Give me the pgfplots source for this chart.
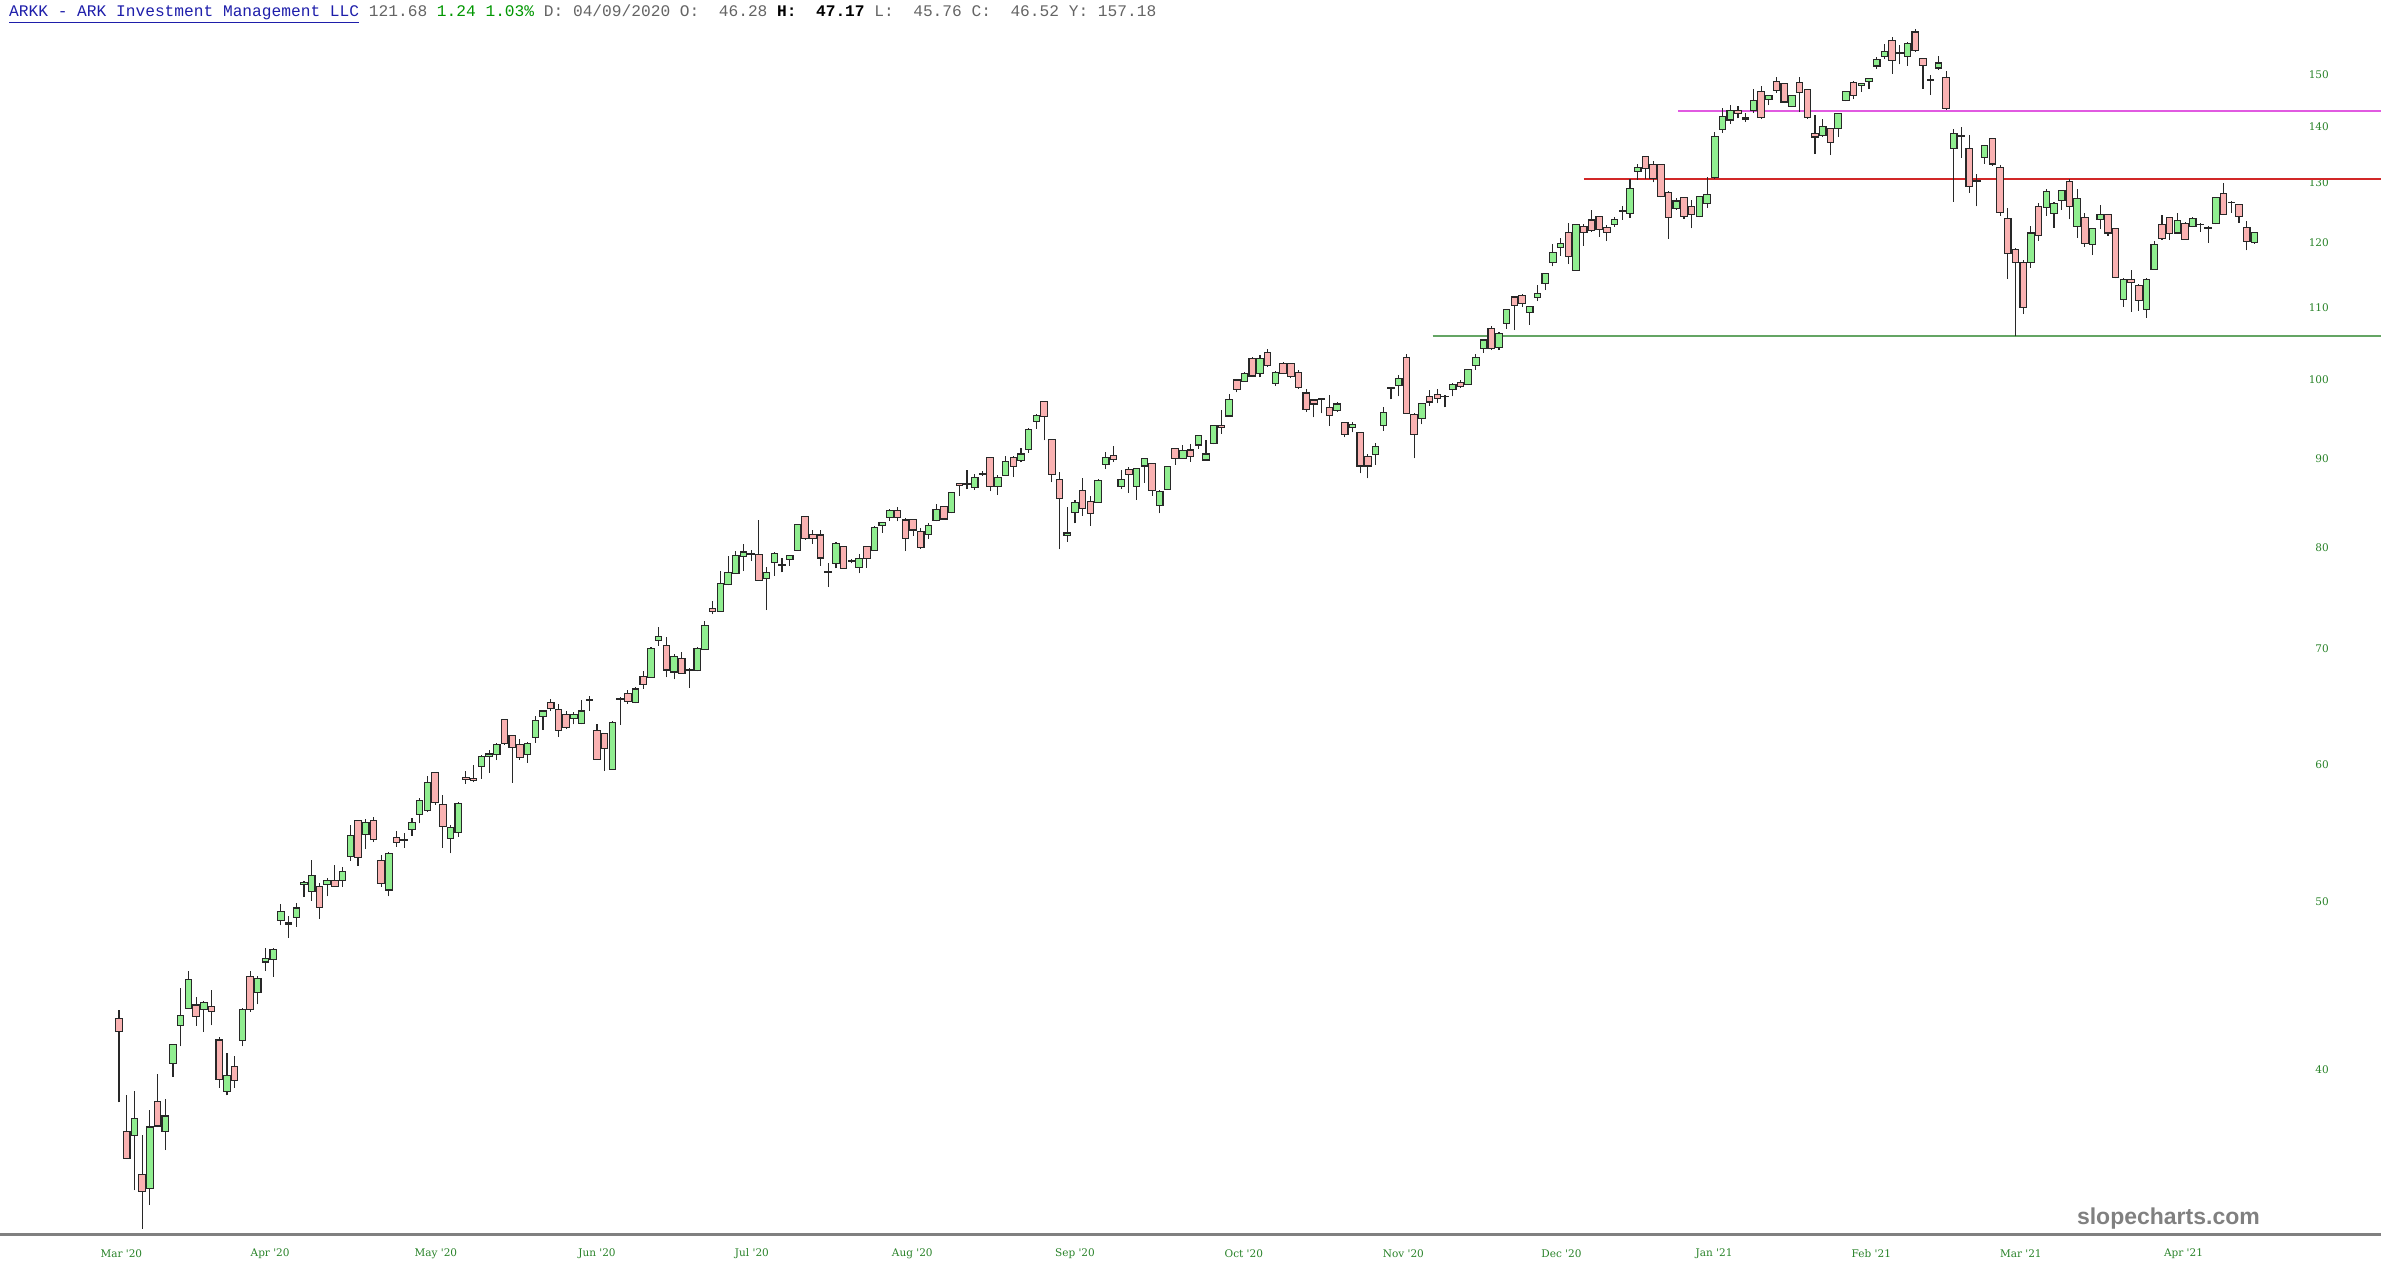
\documentclass[border=0pt]{standalone}
\usepackage{pgfplots}
\usepackage{pgfplotstable}
\pgfplotsset{compat=1.18}
\usepackage{fontspec}
\setmainfont{DejaVu Serif}
\newfontfamily\hdrfont{Liberation Mono}
\newfontfamily\tickfont{DejaVu Serif}
\newfontfamily\wmfont{Liberation Sans}
\definecolor{candup}{RGB}{144,238,144}
\definecolor{candown}{RGB}{250,178,178}
\definecolor{candedge}{RGB}{40,40,40}
\definecolor{tickgreen}{RGB}{40,130,40}
\definecolor{linkblue}{RGB}{30,30,170}
\definecolor{hgray}{RGB}{100,100,100}
\definecolor{hgreen}{RGB}{0,150,0}
\definecolor{lmag}{RGB}{225,90,225}
\definecolor{lred}{RGB}{210,40,40}
\definecolor{lgreen}{RGB}{100,165,100}
\definecolor{wmgray}{RGB}{128,128,128}

\pgfplotstableread{
x o h l c
0 42.82 43.31 38.31 42.09
1 36.85 38.70 35.52 35.55
2 36.65 38.89 34.08 37.49
3 34.81 36.68 32.39 34.04
4 34.16 37.91 33.42 37.07
5 38.35 39.76 37.07 37.12
6 36.85 38.49 35.95 37.62
7 40.32 41.40 39.63 41.36
8 42.43 44.59 41.26 42.97
9 43.39 45.61 43.39 45.09
10 43.59 44.05 42.40 42.93
11 43.35 43.83 42.05 43.75
12 43.51 44.49 42.42 43.20
13 41.61 41.77 39.07 39.49
14 38.87 40.91 38.66 39.68
15 40.16 40.71 39.05 39.43
16 41.57 43.41 41.26 43.31
17 45.26 45.59 43.19 43.35
18 44.31 45.28 43.63 45.13
19 46.15 47.03 45.63 46.36
20 46.28 46.99 45.26 46.93
21 48.78 49.86 48.46 49.38
22 48.63 49.05 47.65 48.54
23 48.98 49.90 48.37 49.58
24 51.14 51.39 50.31 51.27
25 50.68 52.83 50.06 51.75
26 51.00 51.27 48.85 49.63
27 51.18 51.63 50.36 51.43
28 51.43 52.47 50.98 51.02
29 51.40 52.34 51.01 52.05
30 53.08 55.36 52.77 54.61
31 55.68 55.68 52.41 53.03
32 54.66 55.78 53.61 55.56
33 55.66 55.93 54.11 54.28
34 52.84 53.20 51.01 51.24
35 50.78 53.39 50.36 53.32
36 54.45 54.93 53.80 54.06
37 54.33 54.81 53.73 54.23
38 55.06 55.86 54.56 55.56
39 56.11 57.39 55.48 57.18
40 56.46 59.07 56.31 58.57
41 59.33 59.33 56.86 57.02
42 56.91 57.60 53.73 55.28
43 54.38 55.36 53.32 55.18
44 54.78 57.07 54.48 56.97
45 58.99 59.50 58.49 58.78
46 58.91 59.99 58.59 58.70
47 59.85 60.75 58.86 60.67
48 60.64 61.19 59.33 60.84
49 60.81 61.71 60.34 61.63
50 63.70 63.70 61.58 61.71
51 62.32 62.41 58.57 61.36
52 61.58 62.07 60.34 60.59
53 60.81 61.85 60.12 61.66
54 62.18 63.95 61.77 63.61
55 63.98 64.41 62.81 64.41
56 65.15 65.48 64.41 64.64
57 64.58 65.00 62.27 62.75
58 64.12 64.41 62.87 63.04
59 63.78 64.30 63.29 64.15
60 63.39 65.36 63.28 64.41
61 65.42 65.75 64.43 65.30
62 62.80 63.28 60.37 60.37
63 62.53 62.53 59.50 61.28
64 59.61 63.53 59.61 63.42
65 65.52 65.66 63.25 65.42
66 65.90 66.24 65.01 65.24
67 65.16 66.50 65.07 66.32
68 67.47 67.96 66.35 66.75
69 67.35 70.15 67.35 70.02
70 70.71 72.01 70.24 71.09
71 70.30 71.03 67.35 68.02
72 67.84 69.46 67.17 69.26
73 69.04 69.67 67.66 67.72
74 68.10 68.17 66.44 68.02
75 67.96 70.15 67.90 70.02
76 69.89 72.59 69.83 72.14
77 73.82 74.52 73.23 73.56
78 73.53 77.58 73.53 76.30
79 76.20 79.10 76.10 77.41
80 77.37 79.68 77.37 79.17
81 79.10 80.37 77.58 79.57
82 79.43 79.75 78.60 79.36
83 79.32 82.99 76.65 76.65
84 76.82 78.03 73.66 77.41
85 78.46 79.57 77.10 79.46
86 78.27 78.96 77.44 78.16
87 78.78 79.28 78.13 79.17
88 79.68 82.61 79.68 82.50
89 83.40 83.40 80.84 81.02
90 81.45 81.92 80.46 81.01
91 81.37 81.95 78.13 78.94
92 77.49 78.38 75.94 77.41
93 78.38 80.57 77.85 80.46
94 80.10 80.17 77.85 77.85
95 78.62 78.83 78.38 78.55
96 77.96 79.34 77.33 78.90
97 80.17 80.17 77.92 78.90
98 79.77 82.37 79.74 82.18
99 82.40 82.71 81.63 82.71
100 83.32 84.19 82.94 84.03
101 84.03 84.49 82.86 83.29
102 83.01 83.24 79.66 80.97
103 83.09 83.16 81.30 81.92
104 81.74 82.10 79.93 80.00
105 81.45 82.71 80.94 82.44
106 82.98 84.76 82.86 84.19
107 84.49 84.60 83.05 83.12
108 83.81 86.14 83.74 86.06
109 87.12 87.24 85.74 86.88
110 87.16 88.67 86.45 87.08
111 86.65 88.19 86.41 87.87
112 88.31 88.59 88.03 88.23
113 90.16 90.16 86.22 86.80
114 86.80 88.11 85.82 87.83
115 88.07 90.32 87.99 89.74
116 90.24 90.32 87.87 89.14
117 89.86 91.28 89.62 90.62
118 91.15 93.76 90.78 93.65
119 94.63 95.62 93.69 95.36
120 97.14 97.23 92.28 95.19
121 92.37 92.37 87.27 88.17
122 87.55 88.45 79.84 85.40
123 81.29 84.50 80.63 81.59
124 83.86 85.25 82.63 84.93
125 86.37 87.74 83.49 84.31
126 85.12 85.67 82.37 83.75
127 85.01 87.63 84.93 87.47
128 89.35 90.90 88.80 90.15
129 90.41 91.59 89.68 89.97
130 86.76 88.72 86.49 87.63
131 88.80 89.11 86.07 88.21
132 86.76 88.99 85.25 88.92
133 89.19 90.15 87.24 90.06
134 89.46 89.58 85.71 86.33
135 84.61 86.37 83.75 86.26
136 86.45 89.19 86.45 89.11
137 91.23 91.39 89.31 90.06
138 90.11 91.71 90.02 91.02
139 91.10 91.79 89.68 90.29
140 91.71 92.99 91.23 92.86
141 89.90 92.33 89.82 90.62
142 91.84 94.16 91.79 94.07
143 94.12 96.08 93.09 93.86
144 95.31 98.19 95.31 97.43
145 99.98 100.07 98.33 98.73
146 99.80 101.06 99.71 100.87
147 102.87 103.11 100.42 100.51
148 100.87 103.29 100.33 102.87
149 103.71 104.18 101.71 101.89
150 99.53 101.19 99.22 100.96
151 102.13 102.46 100.78 100.87
152 102.13 102.22 100.19 100.42
153 101.00 101.32 98.84 98.98
154 98.26 98.84 95.85 96.15
155 97.36 97.45 95.12 96.84
156 97.49 97.49 95.64 97.41
157 96.41 98.03 94.04 95.42
158 96.02 97.14 95.85 96.84
159 94.47 94.56 92.64 93.02
160 93.83 94.56 93.27 94.21
161 93.27 93.35 88.32 89.19
162 90.29 90.61 87.73 89.19
163 90.57 91.99 89.31 91.49
164 94.13 96.50 93.48 95.72
165 98.98 98.98 97.45 98.89
166 99.29 100.69 97.81 100.19
167 103.06 103.54 95.64 95.64
168 95.51 95.64 90.09 93.02
169 94.99 97.02 94.26 96.89
170 97.81 98.60 96.58 97.10
171 98.12 98.82 96.93 97.58
172 97.85 98.03 96.41 97.77
173 98.75 99.52 97.81 99.38
174 99.70 99.97 98.98 99.16
175 99.38 101.50 99.29 101.41
176 101.91 103.54 101.32 103.06
177 104.25 105.57 103.69 105.43
178 107.01 107.35 104.02 104.20
179 104.39 106.51 104.02 106.37
180 107.74 109.81 107.01 109.81
181 111.62 111.62 106.83 110.36
182 111.90 112.04 110.12 110.70
183 109.39 110.36 107.57 110.26
184 111.58 113.47 111.02 112.16
185 113.68 115.23 112.66 115.12
186 116.86 119.78 116.28 118.45
187 119.14 120.79 117.92 119.89
188 121.60 123.09 116.60 117.76
189 115.61 122.98 115.61 122.87
190 122.54 122.98 119.51 121.60
191 123.65 125.32 121.76 121.98
192 124.20 124.37 120.89 122.04
193 122.43 122.87 120.22 121.60
194 122.98 124.20 122.54 123.70
195 125.13 126.00 123.65 125.04
196 124.65 130.52 123.98 128.96
197 131.88 133.16 130.41 132.55
198 134.49 134.49 130.58 132.43
199 133.16 133.64 130.00 130.58
200 133.16 133.28 127.40 127.51
201 128.26 128.55 120.63 124.09
202 125.48 127.39 125.37 126.81
203 127.39 127.51 123.81 124.26
204 125.95 126.93 122.26 124.48
205 124.20 127.68 124.09 127.51
206 126.41 130.87 125.59 127.97
207 130.87 139.00 130.50 138.20
208 139.50 143.50 138.80 141.80
209 141.20 144.00 140.50 143.00
210 143.00 143.80 141.50 142.40
211 141.60 142.50 140.80 141.40
212 143.00 147.10 142.57 144.95
213 146.58 147.78 141.49 141.60
214 145.14 146.06 143.97 145.80
215 148.69 149.47 146.45 146.90
216 148.15 148.22 144.43 144.62
217 143.77 145.93 143.64 145.80
218 148.36 149.47 142.70 146.45
219 146.97 146.97 141.49 141.60
220 138.74 142.23 134.94 138.05
221 138.36 141.47 138.05 140.05
222 139.61 139.74 134.76 137.12
223 139.61 142.57 138.05 142.42
224 144.95 146.77 144.75 146.58
225 148.42 148.62 145.14 145.80
226 147.78 148.42 146.58 148.15
227 148.56 149.40 147.10 149.13
228 151.72 153.56 151.17 153.08
229 153.70 156.24 153.08 154.60
230 156.95 157.59 150.15 152.88
231 154.37 156.03 152.06 154.30
232 153.70 156.60 151.72 156.24
233 158.73 159.45 154.51 154.82
234 153.22 153.22 147.23 151.86
235 148.92 149.97 145.93 148.85
236 151.31 153.70 150.97 152.33
237 149.47 150.61 143.19 143.32
238 135.95 139.61 126.64 138.67
239 138.24 139.92 134.28 138.12
240 135.95 138.36 128.24 129.32
241 130.29 131.49 125.89 130.17
242 134.34 136.67 133.27 136.43
243 137.83 137.83 132.91 133.20
244 132.56 133.03 124.32 124.87
245 123.87 125.71 114.39 118.24
246 118.93 119.20 105.93 116.84
247 116.84 117.26 109.10 110.08
248 116.84 122.64 116.08 121.53
249 125.88 126.45 120.26 121.08
250 125.71 128.77 124.32 128.37
251 124.76 126.57 122.35 126.45
252 126.85 128.60 125.32 128.60
253 130.17 130.52 123.76 125.82
254 122.59 128.77 120.80 127.24
255 124.04 124.87 119.36 119.89
256 119.73 122.31 118.02 122.20
257 123.76 126.16 122.20 124.48
258 124.59 124.59 121.08 121.53
259 122.31 122.42 114.44 114.54
260 111.20 114.54 110.17 114.19
261 114.19 115.72 109.44 113.78
262 113.37 113.52 109.59 111.05
263 109.83 114.44 108.61 114.29
264 115.72 120.26 115.72 119.73
265 122.87 124.43 120.42 120.64
266 124.04 124.15 120.42 121.46
267 121.53 124.76 121.46 123.59
268 123.03 123.31 120.42 120.53
269 122.64 124.15 122.48 123.87
270 122.98 123.08 121.76 122.87
271 122.42 122.59 120.00 122.31
272 123.03 127.52 122.92 127.35
273 128.02 129.94 124.43 124.59
274 126.62 126.74 124.87 126.51
275 126.28 126.28 123.20 124.15
276 122.35 123.48 118.77 120.21
277 119.94 121.75 119.84 121.68
}\candles

\begin{document}
\begin{tikzpicture}[x=1pt,y=1pt]
\path[use as bounding box] (0,0) rectangle (2381,1275);
\begin{axis}[
  at={(0pt,41pt)}, anchor=south west,
  scale only axis, width=2381pt, height=1234pt,
  xmin=-15.44, xmax=293.42,
  ymode=log, ymin=32.16, ymax=165.62,
  axis line style={draw=none},
  major tick length=0pt, minor tick num=0,
  xtick={0.3,19.6,41.1,62.0,82.1,102.9,124.0,145.9,166.6,187.1,206.9,227.3,246.7,267.8},
  xticklabels={Mar '20,Apr '20,May '20,Jun '20,Jul '20,Aug '20,Sep '20,Oct '20,Nov '20,Dec '20,Jan '21,Feb '21,Mar '21,Apr '21},
  xticklabel style={font=\tickfont\fontsize{10.5}{12}\selectfont, text=tickgreen, anchor=center, yshift=-20pt},
  ytick={40,50,60,70,80,90,100,110,120,130,140,150},
  yticklabels={40,50,60,70,80,90,100,110,120,130,140,150},
  yticklabel pos=right,
  yticklabel style={font=\tickfont\fontsize{10.5}{12}\selectfont, text=tickgreen, anchor=east, inner sep=0pt, xshift=-52pt},
  wick/.style={draw=candedge, line width=1.1pt, mark=none},
  body/.style={draw=candedge, line width=1.1pt, mark=none},
]
\addplot[lgreen, line width=1.4pt, mark=none] coordinates {(170.4,106.0) (293.42,106.0)};
\addplot[lred, line width=1.5pt, mark=none] coordinates {(190.0,130.6) (293.42,130.6)};
\addplot[lmag, line width=2.0pt, mark=none] coordinates {(202.2,142.9) (293.42,142.9)};
\pgfplotsinvokeforeach{0,...,277}{%
  \pgfplotstablegetelem{#1}{x}\of\candles\edef\cx{\pgfplotsretval}%
  \pgfplotstablegetelem{#1}{o}\of\candles\edef\co{\pgfplotsretval}%
  \pgfplotstablegetelem{#1}{h}\of\candles\edef\ch{\pgfplotsretval}%
  \pgfplotstablegetelem{#1}{l}\of\candles\edef\cl{\pgfplotsretval}%
  \pgfplotstablegetelem{#1}{c}\of\candles\edef\cc{\pgfplotsretval}%
  \ifdim\cc pt<\co pt \def\cfill{candown}\else\def\cfill{candup}\fi
  \pgfmathsetmacro\xa{\cx-0.42}\pgfmathsetmacro\xb{\cx+0.42}%
  \edef\doplot{%
    \noexpand\addplot[wick] coordinates {(\cx,\cl) (\cx,\ch)};%
    \noexpand\addplot[body, fill=\cfill] coordinates {(\xa,\co) (\xb,\co) (\xb,\cc) (\xa,\cc)} -- cycle;%
  }\doplot
}
\end{axis}
\draw[wmgray, line width=3pt] (0,41) -- (2381,41);
\node[anchor=base west, inner sep=0pt, font=\hdrfont\fontsize{16.2}{18}\selectfont] at (9,1258)
 {\textcolor{linkblue}{\underline{ARKK - ARK Investment Management LLC}}\ \textcolor{hgray}{121.68}\ \textcolor{hgreen}{1.24 1.03\%}\ \textcolor{hgray}{D: 04/09/2020 O:\ \ 46.28}\ \textbf{H:\ \ 47.17}\ \textcolor{hgray}{L:\ \ 45.76 C:\ \ 46.52 Y: 157.18}};
\node[anchor=base east, inner sep=0pt, text=wmgray, font=\wmfont\bfseries\fontsize{23}{26}\selectfont] at (2260,51) {slopecharts.com};
\end{tikzpicture}
\end{document}
